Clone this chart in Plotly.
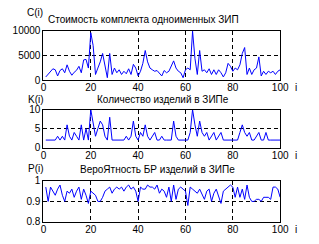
import plotly.graph_objects as go

i_vals = list(range(1, 101))

cost = [650, 1150, 1800, 2300, 2100, 850, 1950, 2300, 1500, 3100,
        1800, 1000, 1600, 2000, 2800, 1500, 4100, 4200, 2450, 9600,
        7000, 1150, 2450, 3700, 5400, 3100, 500, 5400, 1150, 2450,
        1500, 2100, 1150, 1800, 1300, 2300, 1150, 3200, 2450, 850,
        1800, 3400, 6000, 3700, 2450, 2100, 1800, 1950, 1500, 850,
        1950, 1500, 1800, 2800, 3900, 2450, 1800, 1500, 500, 2100,
        2450, 2100, 9900, 4400, 1150, 6000, 1800, 2100, 1500, 2300,
        1150, 2100, 1150, 2100, 1500, 650, 1500, 3400, 2800, 1800,
        2450, 2100, 3100, 5400, 6600, 1150, 2450, 1150, 2100, 2450,
        4700, 850, 1800, 1150, 1800, 1500, 1800, 1150, 1800, 2100]

count = [2, 2, 2, 2, 2, 3, 2, 3, 2, 6,
         3, 2, 4, 3, 2, 6, 2, 5, 2, 10,
         6, 3, 5, 7, 6, 3, 2, 8, 2, 2,
         2, 2, 2, 2, 3, 2, 3, 7, 3, 2,
         4, 3, 6, 3, 2, 3, 4, 2, 2, 3,
         2, 2, 2, 2, 7, 3, 2, 2, 2, 2,
         2, 4, 10, 6, 3, 7, 4, 3, 4, 2,
         3, 4, 2, 3, 4, 2, 2, 2, 2, 2,
         2, 2, 4, 6, 4, 3, 4, 2, 2, 3,
         4, 2, 2, 4, 2, 2, 2, 2, 2, 2]

prob = [0.97, 0.90, 0.97, 0.95, 0.93, 0.96, 0.98, 0.93, 0.90, 0.95,
        0.94, 0.96, 0.92, 0.95, 0.97, 0.91, 0.96, 0.93, 0.89, 0.95,
        0.94, 0.93, 0.90, 0.90, 0.92, 0.95, 0.96, 0.97, 0.94, 0.96,
        0.97, 0.96, 0.97, 0.95, 0.97, 0.98, 0.96, 0.97, 0.95, 0.90,
        0.97, 0.96, 0.96, 0.98, 0.97, 0.97, 0.96, 0.98, 0.94, 0.96,
        0.95, 0.92, 0.97, 0.90, 0.98, 0.91, 0.96, 0.97, 0.96, 0.95,
        0.88, 0.97, 0.96, 0.95, 0.94, 0.96, 0.93, 0.91, 0.95, 0.96,
        0.90, 0.94, 0.96, 0.92, 0.89, 0.95, 0.96, 0.97, 0.98, 0.97,
        0.92, 0.97, 0.92, 0.96, 0.91, 0.98, 0.92, 0.90, 0.90, 0.91,
        0.91, 0.90, 0.92, 0.92, 0.92, 0.91, 0.97, 0.97, 0.96, 0.92]

x_ticks = [0, 20, 40, 60, 80, 100]
y1_ticks = [0, 5000, 10000]
y1_labels = ["0", "5000", "10000"]
y2_ticks = [0, 5, 10]
y2_labels = ["0", "5", "10"]
y3_ticks = [0.8, 0.9, 1]
y3_labels = ["0.8", "0.9", "1"]

titles = ["Стоимость комплекта одноименных ЗИП",
          "Количество изделий в ЗИПе",
          "ВероЯтность БР изделий в ЗИПе"]
ylabels = ["C(i)", "K(i)", "P(i)"]

W, H = 319, 244
FONT = "Liberation Sans, Arial, sans-serif"
FS = 10

fig = go.Figure()
fig.add_trace(go.Scatter(x=i_vals, y=cost, mode="lines",
                         line=dict(color="#0000ff", width=1), xaxis="x", yaxis="y"))
fig.add_trace(go.Scatter(x=i_vals, y=count, mode="lines",
                         line=dict(color="#0000ff", width=1), xaxis="x2", yaxis="y2"))
fig.add_trace(go.Scatter(x=i_vals, y=prob, mode="lines",
                         line=dict(color="#0000ff", width=1), xaxis="x3", yaxis="y3"))

def py(px):
    return (H - px) / H

xdom = [42 / W, 288 / W]
boxes = [(26, 78), (109, 149), (184, 227)]

common_x = dict(range=[0, 100], tickvals=x_ticks, showgrid=True, gridcolor="black",
                griddash="4px,3px", gridwidth=1, zeroline=False, showline=True,
                linecolor="black", linewidth=1, mirror=True, ticks="",
                ticklabelstandoff=-2,
                tickfont=dict(family=FONT, size=FS, color="black"), domain=xdom)
common_y = dict(showgrid=True, gridcolor="black", griddash="4px,3px", gridwidth=1,
                zeroline=False, showline=True, linecolor="black", linewidth=1,
                mirror=True, ticks="", tickfont=dict(family=FONT, size=FS, color="black"))

layout = dict(width=W, height=H, margin=dict(l=0, r=0, t=0, b=0),
              paper_bgcolor="white", plot_bgcolor="white", showlegend=False)
layout["xaxis"] = dict(common_x, anchor="y")
layout["xaxis2"] = dict(common_x, anchor="y2")
layout["xaxis3"] = dict(common_x, anchor="y3")
layout["yaxis"] = dict(common_y, anchor="x", range=[0, 10000], tickvals=y1_ticks,
                       ticktext=y1_labels,
                       domain=[py(boxes[0][1]), py(boxes[0][0])])
layout["yaxis2"] = dict(common_y, anchor="x2", range=[0, 10], tickvals=y2_ticks,
                        ticktext=y2_labels,
                        domain=[py(boxes[1][1]), py(boxes[1][0])])
layout["yaxis3"] = dict(common_y, anchor="x3", range=[0.8, 1], tickvals=y3_ticks,
                        ticktext=y3_labels, domain=[py(boxes[2][1]), py(boxes[2][0])])
fig.update_layout(**layout)

anns = []
title_pos = [(146, 14), (166, 98), (161, 172)]
ylab_pos = [(33, 7), (34, 98), (34, 171)]
i_pos = [86, 157, 235]
for k in range(3):
    anns.append(dict(text=titles[k], x=title_pos[k][0] / W, y=py(title_pos[k][1]),
                     xref="paper", yref="paper", showarrow=False,
                     xanchor="center", yanchor="middle",
                     font=dict(family=FONT, size=FS, color="black")))
    anns.append(dict(text=ylabels[k], x=ylab_pos[k][0] / W, y=py(ylab_pos[k][1]),
                     xref="paper", yref="paper", showarrow=False,
                     xanchor="center", yanchor="middle",
                     font=dict(family=FONT, size=FS, color="black")))
    anns.append(dict(text="i", x=304 / W, y=py(i_pos[k]),
                     xref="paper", yref="paper", showarrow=False,
                     xanchor="center", yanchor="middle",
                     font=dict(family=FONT, size=FS, color="black")))
fig.update_layout(annotations=anns)

fig.write_html("out.html")
